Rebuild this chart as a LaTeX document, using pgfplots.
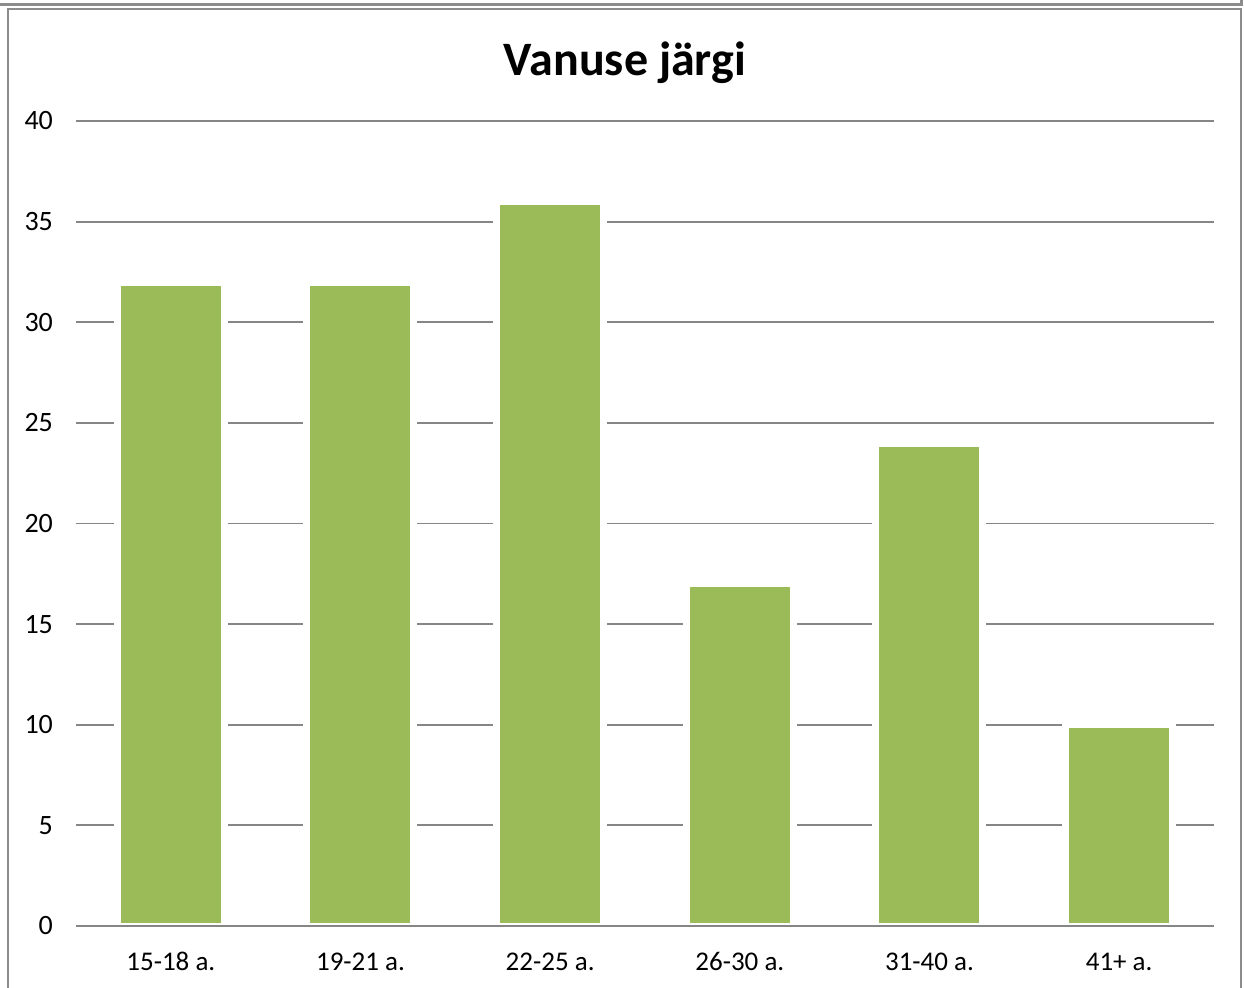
\documentclass[border=0pt]{standalone}
\usepackage{fontspec}
\setmainfont{Carlito}
\usepackage{pgfplots}
\pgfplotsset{compat=1.18}
\definecolor{bargreen}{HTML}{9BBB59}
\definecolor{gridgray}{HTML}{868686}
\definecolor{framegray}{HTML}{8C8C8C}
\begin{document}
\begin{tikzpicture}[x=0.5pt,y=0.5pt]
\useasboundingbox (0,0) rectangle (1244,987);
\draw[framegray, line width=1.3pt] (8,-5) -- (8,978) -- (1241,978) -- (1241,-5);
\draw[framegray, line width=1.3pt] (-2,982.5) -- (1241.5,982.5) -- (1241.5,990);
\node[font=\bfseries\fontsize{24}{28}\selectfont] at (625,924) {Vanuse järgi};
\begin{axis}[
  at={(38pt,30.5pt)}, anchor=south west,
  scale only axis, width=569pt, height=402.5pt,
  xmin=-0.5, xmax=5.5, ymin=0, ymax=40,
  ytick={0,5,...,40},
  xtick={0,1,2,3,4,5},
  xticklabels={15-18 a.,19-21 a.,22-25 a.,26-30 a.,31-40 a.,41+ a.},
  major tick length=0pt,
  ymajorgrids,
  grid style={gridgray, line width=0.9pt},
  axis x line*=bottom, axis y line*=left,
  x axis line style={draw=none},
  y axis line style={draw=none},
  /pgf/number format/assume math mode=true,
  yticklabel style={font=\fontsize{14}{16}\selectfont, xshift=-8pt},
  xticklabel style={font=\fontsize{13.5}{16}\selectfont, yshift=-9pt, text height=9.5pt, text depth=3pt},
  ybar, bar width=53.5pt,
]
\addplot[bar shift=0pt, fill=bargreen, draw=white, line width=3.5pt] coordinates {(0,32) (1,32) (2,36) (3,17) (4,24) (5,10)};
\draw[gridgray, line width=0.9pt] (rel axis cs:0,0) -- (rel axis cs:1,0);
\end{axis}
\end{tikzpicture}
\end{document}
